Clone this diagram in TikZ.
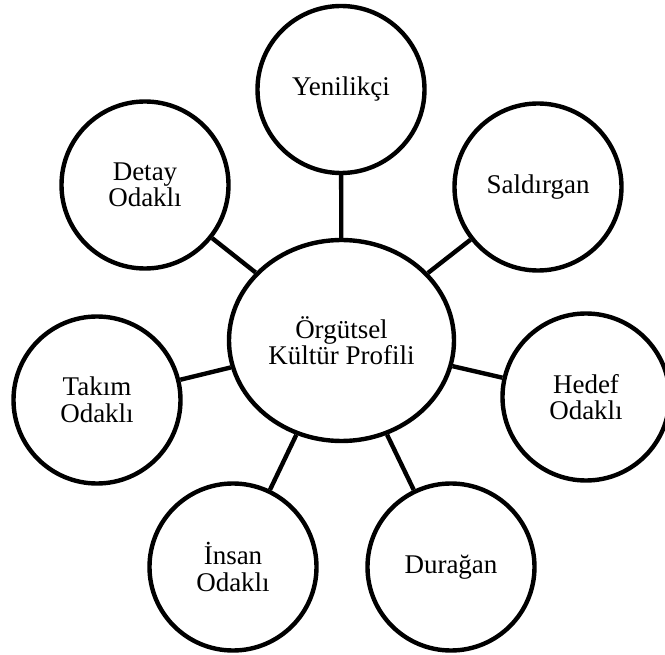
\documentclass[tikz,border=0pt]{standalone}
\usepackage{fontspec}
\setmainfont{Liberation Serif}
\usetikzlibrary{shapes.geometric}
\tikzset{
  hub/.style={draw, line width=4.4pt, ellipse, minimum width=225pt, minimum height=201pt,
    inner sep=0pt, align=center, font=\fontsize{27}{26.5}\selectfont},
  spoke/.style={draw, line width=4.4pt, circle, minimum size=167pt,
    inner sep=0pt, align=center, font=\fontsize{27}{26.5}\selectfont},
  link/.style={line width=4.4pt}
}
\begin{document}
\begin{tikzpicture}[x=1pt,y=-1pt]
  \useasboundingbox (0,0) rectangle (665,655);
  % central profile
  \node[hub] (c) at (341.5,340.5) {Örgütsel\\Kültür Profili};
  % surrounding culture types
  \node[spoke] (yen) at (341,89.5) {Yenilikçi};
  \node[spoke] (sal) at (538,187) {Saldırgan};
  \node[spoke] (hed) at (586,397) {Hedef\\Odaklı};
  \node[spoke] (dur) at (451,567) {Durağan};
  \node[spoke] (ins) at (233,567) {İnsan\\Odaklı};
  \node[spoke] (tak) at (97,400) {Takım\\Odaklı};
  \node[spoke] (det) at (145,185) {Detay\\Odaklı};
  % connectors
  \foreach \n in {yen,sal,hed,dur,ins,tak,det}
    \draw[link] (c) -- (\n);
\end{tikzpicture}
\end{document}
